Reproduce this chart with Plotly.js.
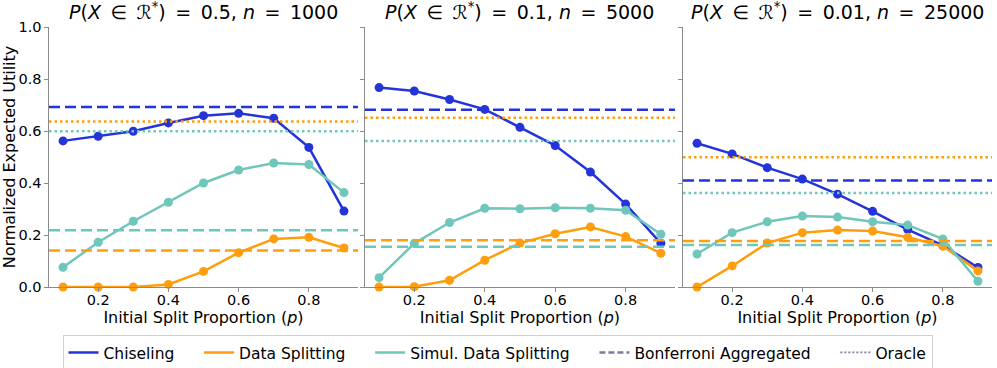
<!DOCTYPE html>
<html>
<head>
<meta charset="utf-8">
<script src="https://cdn.plot.ly/plotly-3.0.1.min.js"></script>
<style>
  html, body { margin: 0; padding: 0; background: #ffffff; }
  #chart { width: 997px; height: 368px; }
</style>
</head>
<body>
<div id="chart"></div>
<script>
const splits = [0.1, 0.2, 0.3, 0.4, 0.5, 0.6, 0.7, 0.8, 0.9];

const sp = "\u2002"; // wider gap, like mathtext around = and ∈
const panelTitles = [
  `<i>P</i>(<i>X</i>${sp}∈${sp}<i>ℛ</i><sup>*</sup>)${sp}=${sp}0.5, <i>n</i>${sp}=${sp}1000`,
  `<i>P</i>(<i>X</i>${sp}∈${sp}<i>ℛ</i><sup>*</sup>)${sp}=${sp}0.1, <i>n</i>${sp}=${sp}5000`,
  `<i>P</i>(<i>X</i>${sp}∈${sp}<i>ℛ</i><sup>*</sup>)${sp}=${sp}0.01, <i>n</i>${sp}=${sp}25000`,
];

// one row per panel
const chiseling = [
  [0.562, 0.580, 0.599, 0.631, 0.659, 0.668, 0.649, 0.537, 0.292],
  [0.767, 0.754, 0.721, 0.683, 0.614, 0.544, 0.442, 0.319, 0.168],
  [0.553, 0.512, 0.459, 0.415, 0.357, 0.291, 0.221, 0.160, 0.075],
];
const dataSplitting = [
  [0.000, 0.000, 0.000, 0.010, 0.060, 0.132, 0.185, 0.191, 0.150],
  [0.000, 0.001, 0.026, 0.103, 0.169, 0.205, 0.231, 0.194, 0.130],
  [0.000, 0.081, 0.169, 0.209, 0.219, 0.215, 0.191, 0.157, 0.062],
];
const simulSplitting = [
  [0.076, 0.172, 0.253, 0.326, 0.400, 0.450, 0.477, 0.471, 0.363],
  [0.036, 0.168, 0.248, 0.303, 0.301, 0.305, 0.303, 0.295, 0.203],
  [0.127, 0.209, 0.251, 0.273, 0.269, 0.251, 0.238, 0.185, 0.022],
];

// reference levels: Bonferroni aggregated (dashed) and oracle (dotted)
const bonfChiseling = [0.692, 0.682, 0.410];
const bonfDataSplit = [0.140, 0.180, 0.177];
const bonfSimul = [0.218, 0.155, 0.162];
const oracleDataSplit = [0.637, 0.651, 0.499];
const oracleSimul = [0.599, 0.562, 0.362];

const yTicks = [0, 0.2, 0.4, 0.6, 0.8, 1.0];
const xTicks = [0.2, 0.4, 0.6, 0.8];

const colors = { blue: "#2434d8", orange: "#ff9e0c", teal: "#6fc6ba", gray: "#7a7e9c", spine: "#8a8a8a" };
const font = "DejaVu Sans, Verdana, sans-serif";
const dashed = "11px,5px";
const dotted = "2.5px,3px";

const series = [
  ["Chiseling", chiseling, colors.blue],
  ["Data Splitting", dataSplitting, colors.orange],
  ["Simul. Data Splitting", simulSplitting, colors.teal],
];

const traces = [];
const shapes = [];
const annotations = [];
const domains = [[0, 0.3277], [0.3351, 0.6638], [0.6723, 1.0]];

for (let p = 0; p < 3; p++) {
  const sfx = p === 0 ? "" : String(p + 1);
  series.forEach(([name, vals, color]) => {
    traces.push({
      type: "scatter",
      mode: "lines+markers",
      x: splits,
      y: vals[p],
      xaxis: "x" + sfx,
      yaxis: "y" + sfx,
      name,
      showlegend: false,
      line: { color, width: 2.5 },
      marker: { color, size: 9 },
      cliponaxis: false,
    });
  });

  const levels = [
    [bonfChiseling[p], colors.blue, dashed],
    [oracleDataSplit[p], colors.orange, dotted],
    [bonfDataSplit[p], colors.orange, dashed],
    [oracleSimul[p], colors.teal, dotted],
    [bonfSimul[p], colors.teal, dashed],
  ];
  levels.forEach(([y, color, dash]) => {
    shapes.push({
      type: "line",
      xref: "x" + sfx + " domain",
      yref: "y" + sfx,
      x0: 0, x1: 1, y0: y, y1: y,
      line: { color, width: 2.5, dash },
    });
  });

  annotations.push({
    text: panelTitles[p],
    xref: "paper", yref: "paper",
    x: (domains[p][0] + domains[p][1]) / 2,
    y: 1.0, yshift: 2,
    xanchor: "center", yanchor: "bottom",
    showarrow: false,
    font: { family: font, size: 19, color: "#000" },
  });
}

// legend entries: plain line samples, as in the reference
const pad = "\u00a0\u00a0\u00a0\u00a0";
const legendItems = [
  ["Chiseling" + pad, colors.blue, "solid", 2.5],
  ["Data Splitting" + pad, colors.orange, "solid", 2.5],
  ["Simul. Data Splitting" + pad, colors.teal, "solid", 2.5],
  ["Bonferroni Aggregated" + pad, colors.gray, "6px,3px", 2.5],
  ["Oracle", colors.gray, "2px,2px", 1.8],
];
legendItems.forEach(([name, color, dash, width]) => {
  traces.push({
    type: "scatter", mode: "lines", x: [null], y: [null],
    name, showlegend: true,
    line: { color, width, dash },
  });
});

const layout = {
  width: 997,
  height: 368,
  margin: { l: 49, r: 5, t: 27, b: 81 },
  paper_bgcolor: "#ffffff",
  plot_bgcolor: "#ffffff",
  font: { family: font, size: 14, color: "#000" },
  showlegend: true,
  legend: {
    orientation: "h",
    xref: "container", yref: "container",
    x: 0.499, xanchor: "center",
    y: 0.09, yanchor: "top",
    bordercolor: "#d0d0d0", borderwidth: 1,
    bgcolor: "#ffffff",
    font: { family: font, size: 15.5 },
    itemwidth: 30,
    traceorder: "normal",
  },
  shapes,
  annotations,
};

for (let p = 0; p < 3; p++) {
  const sfx = p === 0 ? "" : String(p + 1);
  layout["xaxis" + sfx] = {
    domain: domains[p],
    anchor: "y" + sfx,
    range: [0.06, 0.94],
    automargin: false,
    tickvals: xTicks,
    ticktext: xTicks.map((v) => v.toFixed(1)),
    ticks: "outside", ticklen: 3.5, tickcolor: colors.spine,
    ticklabelstandoff: -4,
    showline: true, linecolor: colors.spine, linewidth: 1.2,
    showgrid: false, zeroline: false,
    tickfont: { family: font, size: 14.5 },
    title: { text: "Initial Split Proportion (<i>p</i>)", font: { family: font, size: 16 }, standoff: 0 },
  };
  layout["yaxis" + sfx] = {
    domain: [0, 1],
    anchor: "x" + sfx,
    range: [0, 1],
    automargin: false,
    tickvals: yTicks,
    ticktext: yTicks.map((v) => v.toFixed(1)),
    showticklabels: p === 0,
    ticks: "outside", ticklen: 3.5, tickcolor: colors.spine,
    showline: true, linecolor: colors.spine, linewidth: 1.2,
    showgrid: false, zeroline: false,
    tickfont: { family: font, size: 14.5 },
    title: p === 0 ? { text: "Normalized Expected Utility", font: { family: font, size: 16 }, standoff: 2 } : { text: "" },
  };
}

Plotly.newPlot("chart", traces, layout, { displayModeBar: false, responsive: false });
</script>
</body>
</html>
